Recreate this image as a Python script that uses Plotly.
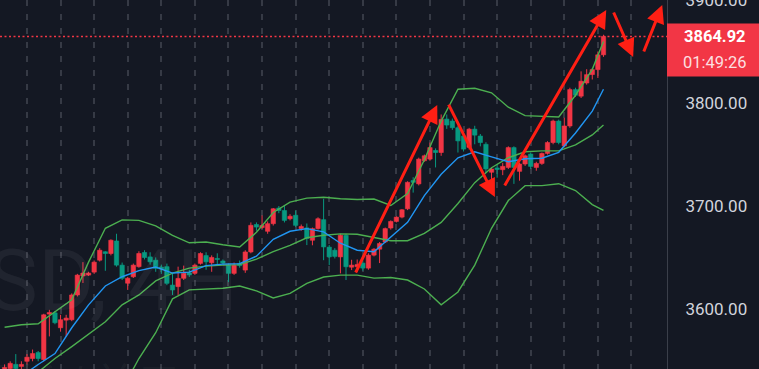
import plotly.graph_objects as go

# ---------------- data ----------------
candle_idx = list(range(108))
opens = [3540, 3542, 3546, 3544, 3549, 3551.7, 3557.5, 3550.7, 3594.9, 3596.1,
         3581.6, 3589, 3589.4, 3613.5, 3631.9, 3632.8, 3635.7, 3647.3, 3655.5, 3653.8,
         3666, 3642.5, 3624.9, 3631.2, 3641, 3654.8, 3650.5, 3647.3, 3640.5, 3641,
         3623.1, 3621.6, 3629.7, 3635, 3634.5, 3644.2, 3651.8, 3644.8, 3649, 3646.5,
         3642.5, 3634.5, 3644, 3637.7, 3655.3, 3682, 3679, 3675.4, 3682.8, 3698,
         3695.6, 3687.6, 3691, 3678, 3678.7, 3666.7, 3678, 3686.7, 3660, 3657,
         3650.5, 3671.5, 3640.5, 3641, 3644.5, 3639.6, 3652.2, 3658, 3665, 3678.6,
         3685, 3689.2, 3697.3, 3724.8, 3721.5, 3744, 3745.6, 3754, 3752, 3784.5,
         3782.6, 3776.1, 3768, 3757, 3774.7, 3768, 3760, 3732.8, 3737, 3735.3,
         3737.5, 3756.8, 3733.7, 3740.8, 3750.5, 3737.5, 3741.4, 3751.1, 3761.7, 3782.6,
         3758.5, 3777.8, 3813.2, 3806.8, 3819.6, 3827.8, 3832.6, 3847]
highs = [3546, 3549, 3556, 3549, 3556, 3560.4, 3559, 3595.2, 3599, 3598,
         3594.2, 3594.2, 3615, 3634, 3645.4, 3636, 3647, 3659, 3656, 3667.6,
         3673, 3645, 3631, 3644, 3656, 3657, 3655, 3650, 3643, 3644,
         3634.8, 3641, 3642, 3638, 3644, 3655, 3655, 3652, 3654, 3648,
         3644, 3645, 3647, 3657, 3684, 3684, 3690.8, 3685, 3698, 3700,
         3701, 3692, 3695.6, 3682, 3683, 3679, 3689, 3707, 3662, 3659,
         3673, 3673, 3647.7, 3648, 3647, 3654, 3659, 3665, 3679, 3686,
         3690, 3697, 3724, 3728, 3747, 3750, 3761.7, 3756, 3789, 3789,
         3785, 3778, 3770, 3776, 3778, 3770, 3762, 3737.5, 3741, 3742,
         3758, 3758, 3742, 3750, 3752, 3743, 3752, 3763, 3784, 3784,
         3785.8, 3815, 3815, 3830.9, 3833, 3834, 3850.2, 3866.5]
lows = [3537, 3539, 3539, 3540, 3546, 3549, 3549, 3549, 3573.2, 3585,
        3577.8, 3573, 3588, 3612, 3625.1, 3632, 3634, 3646, 3637, 3652,
        3641, 3628, 3618.4, 3630, 3640, 3648, 3643, 3636, 3634, 3623,
        3613.5, 3613.5, 3628, 3631, 3633, 3643, 3638, 3636, 3643, 3643,
        3626, 3633, 3640, 3635, 3654, 3676, 3677.8, 3673, 3681, 3693,
        3684, 3686, 3679.5, 3676, 3662, 3661.8, 3677, 3647.3, 3642.5, 3649,
        3634.5, 3628, 3637.7, 3636, 3637, 3638, 3651, 3644.5, 3664, 3677,
        3684, 3688, 3696, 3713, 3720, 3743, 3744, 3737.5, 3748.8, 3775,
        3774, 3752, 3753, 3755, 3760, 3758, 3732, 3711.8, 3727.5, 3730,
        3736, 3721.5, 3724.6, 3739, 3736, 3734.3, 3740, 3750, 3760, 3760,
        3757, 3776, 3806, 3805, 3818, 3823, 3824.5, 3845]
closes = [3543, 3547, 3542, 3546, 3553, 3556.5, 3551.7, 3594.2, 3596.4, 3586.5,
          3589.4, 3591, 3613.5, 3632.8, 3634.8, 3634.8, 3645.4, 3657, 3653.8, 3666.7,
          3642.5, 3629.7, 3629.7, 3642.5, 3653.8, 3649.9, 3645.7, 3639.3, 3639, 3624.8,
          3618.4, 3629.6, 3634.5, 3633, 3642.5, 3653.8, 3645.7, 3650, 3648, 3644.5,
          3634.5, 3642.5, 3642, 3655.3, 3681.2, 3679.5, 3681, 3682.8, 3697.3, 3695.6,
          3686, 3690, 3681.2, 3680, 3668.4, 3678, 3687.6, 3660.2, 3650.5, 3651,
          3671.5, 3640.9, 3642.5, 3643, 3639.6, 3652.2, 3658, 3663.5, 3678, 3685,
          3689.2, 3696.3, 3723, 3723, 3745.6, 3748.8, 3756.8, 3752, 3784.2, 3778.7,
          3776.1, 3763.3, 3755.3, 3774.7, 3768.9, 3761.7, 3736, 3736, 3735.5, 3738.5,
          3756.8, 3737.5, 3740.8, 3748.8, 3738.5, 3741.4, 3751.1, 3761.7, 3782.6, 3761.7,
          3777.8, 3813.2, 3807.7, 3821.3, 3827.7, 3832.6, 3847, 3864.92]

band_idx = [0, 3, 6, 9, 12, 15, 18, 21, 24, 27, 30, 33, 36, 39, 42, 45, 48, 51, 54,
            57, 60, 63, 66, 69, 72, 75, 78, 81, 84, 87, 90, 93, 96, 99, 102, 105, 107]
boll_upper = [3582.1, 3584.5, 3585.5, 3597.1, 3608.7, 3645.4, 3678.3, 3686.5, 3686.0,
              3680.7, 3671.5, 3664.2, 3665.0, 3662.3, 3660.2, 3674.4, 3693.7, 3703.7,
              3707.7, 3708.5, 3707.0, 3706.3, 3706.8, 3700.5, 3712.1, 3744.9, 3782.6,
              3813.5, 3814.5, 3810.1, 3796.1, 3787.9, 3787.4, 3786.5, 3807.7, 3832.9, 3859.9]
boll_mid = [3512.1, 3525.6, 3539.1, 3551.7, 3563.3, 3575.8, 3587.4, 3603.9, 3613.5,
            3627.1, 3634.8, 3639.6, 3641.5, 3642.5, 3643.0, 3648.3, 3655.6, 3661.8,
            3669.1, 3671.5, 3672.9, 3672.5, 3669.6, 3666.2, 3666.2, 3673.4, 3684.1,
            3702.4, 3722.7, 3737.2, 3746.9, 3752.7, 3753.6, 3753.6, 3759.4, 3769.1, 3778.7]
boll_lower = [3441.5, 3466.7, 3488.9, 3506.3, 3517.9, 3507.2, 3496.6, 3521.7, 3551.7,
              3576.8, 3609.7, 3618.4, 3619.0, 3620.0, 3622.2, 3617.4, 3610.6, 3615.0,
              3624.8, 3630.9, 3632.8, 3632.8, 3629.9, 3630.4, 3628.0, 3619.3, 3603.9,
              3616.4, 3642.5, 3678.3, 3705.3, 3719.8, 3719.8, 3721.7, 3715.0, 3701.4, 3695.7]
ma_line = [3526.6, 3534.3, 3545.9, 3556.5, 3581.6, 3603.9, 3622.2, 3631.2, 3637.2,
           3640.6, 3634.8, 3635.7, 3642.0, 3643.5, 3644.0, 3651.2, 3667.6, 3675.4,
           3678.0, 3674.9, 3663.8, 3657.0, 3655.6, 3669.6, 3684.1, 3710.1, 3730.9,
           3746.9, 3752.7, 3747.8, 3743.0, 3745.9, 3746.4, 3752.2, 3771.0, 3792.3, 3813.5]

price_ticks = [3600, 3700, 3800, 3900]
price_tick_text = ["3600.00", "3700.00", "3800.00", "3900.00"]
day_ticks = list(range(4, 113, 6))
countdown_text = "01:49:26"
watermark_main = "XAUUSD, 4H"
watermark_sub = "黄金现货 / 美元"

# drawn arrows: (tail index, tail price) -> (head index, head price)
arrow_tail_x = [62.6, 79.2, 89.2, 108.7, 114.1]
arrow_tail_y = [3633.9, 3800.1, 3718.5, 3889.6, 3848.8]
arrow_head_x = [77.3, 87.6, 107.5, 112.3, 117.5]
arrow_head_y = [3798.2, 3708.7, 3890.6, 3844.9, 3895.4]

# ---------------- style ----------------
BG = "#141823"
RED = "#f23645"
GREEN = "#089981"
BAND = "#4caf50"
BLUE = "#2196f3"
ARROW = "#ff1f14"

fig = go.Figure()

# wicks
for is_up, col in [(True, RED), (False, GREEN)]:
    wx, wy = [], []
    for i, o, h, l, c in zip(candle_idx, opens, highs, lows, closes):
        if (c >= o) == is_up:
            wx += [i, i, None]
            wy += [l, h, None]
    fig.add_trace(go.Scatter(x=wx, y=wy, mode="lines", line=dict(color=col, width=1),
                             showlegend=False, hoverinfo="skip"))

# bodies
body_base = [min(o, c) for o, c in zip(opens, closes)]
body_len = [abs(c - o) for o, c in zip(opens, closes)]
body_col = [RED if c >= o else GREEN for o, c in zip(opens, closes)]
fig.add_trace(go.Bar(x=candle_idx, y=body_len, base=body_base, width=0.78,
                     marker=dict(color=body_col, line=dict(color=body_col, width=0.6)),
                     showlegend=False, hoverinfo="skip"))

for ys, col in [(boll_upper, BAND), (boll_mid, BAND), (boll_lower, BAND), (ma_line, BLUE)]:
    fig.add_trace(go.Scatter(x=band_idx, y=ys, mode="lines",
                             line=dict(color=col, width=1.4),
                             showlegend=False, hoverinfo="skip"))

last = closes[-1]
annotations = []
# watermark (partly outside the view, as in the original)
annotations.append(dict(text=watermark_main, xref="paper", yref="paper",
                        x=240 / 667, y=1 - 280 / 369, xanchor="right", yanchor="middle",
                        showarrow=False, font=dict(family="Roboto", size=86,
                                                   color="rgba(255,255,255,0.055)")))
annotations.append(dict(text=watermark_sub, xref="paper", yref="paper",
                        x=30 / 667, y=1 - 348 / 369, xanchor="center", yanchor="top",
                        showarrow=False, font=dict(family="Noto Sans CJK SC", size=44,
                                                   color="rgba(255,255,255,0.05)")))
for tx, ty, hx, hy in zip(arrow_tail_x, arrow_tail_y, arrow_head_x, arrow_head_y):
    annotations.append(dict(x=hx, y=hy, ax=tx, ay=ty, xref="x", yref="y",
                            axref="x", ayref="y", text="", showarrow=True,
                            arrowhead=2, arrowsize=1.2, arrowwidth=3,
                            arrowcolor=ARROW, standoff=0, startstandoff=0))
# last price label
annotations.append(dict(text="<b>%.2f</b>" % last, xref="paper", yref="y",
                        x=714.5 / 667, y=last, xanchor="center", yanchor="middle",
                        showarrow=False, font=dict(family="Roboto", size=16.5, color="#ffffff")))
annotations.append(dict(text=countdown_text, xref="paper", yref="y",
                        x=715 / 667, y=last, yshift=-26, xanchor="center", yanchor="middle",
                        showarrow=False, font=dict(family="Roboto", size=16.5,
                                                   color="rgba(255,255,255,0.85)")))

shapes = [
    dict(type="line", xref="paper", x0=0, x1=1, yref="y", y0=last, y1=last,
         line=dict(color=RED, width=1.5, dash="2px,2.5px"), layer="above"),
    dict(type="rect", xref="paper", x0=1.0, x1=759 / 667, yref="y",
         ysizemode="pixel", yanchor=last, y0=-40, y1=13,
         fillcolor=RED, line=dict(width=0), layer="above"),
]

fig.update_layout(
    width=759, height=369,
    margin=dict(l=0, r=92, t=0, b=0, autoexpand=False),
    paper_bgcolor=BG, plot_bgcolor=BG,
    showlegend=False, barmode="overlay",
    annotations=annotations, shapes=shapes,
    xaxis=dict(range=[-0.82, 118.35], tickvals=day_ticks, showticklabels=False,
               showgrid=True, gridcolor="#363a45", gridwidth=1.5, griddash="6px,8px",
               zeroline=False, showline=False, ticks="", fixedrange=True,
               automargin=False),
    yaxis=dict(side="right", range=[3541.5, 3900.3], tickvals=price_ticks,
               ticktext=price_tick_text, showgrid=False, zeroline=False,
               showline=True, linecolor="#3b3f4a", linewidth=1, ticks="",
               ticklabelstandoff=14, ticklabeloverflow="allow", automargin=False,
               tickfont=dict(family="Roboto", size=17, color="#d1d4dc"),
               fixedrange=True),
)

fig.write_html("out.html")
